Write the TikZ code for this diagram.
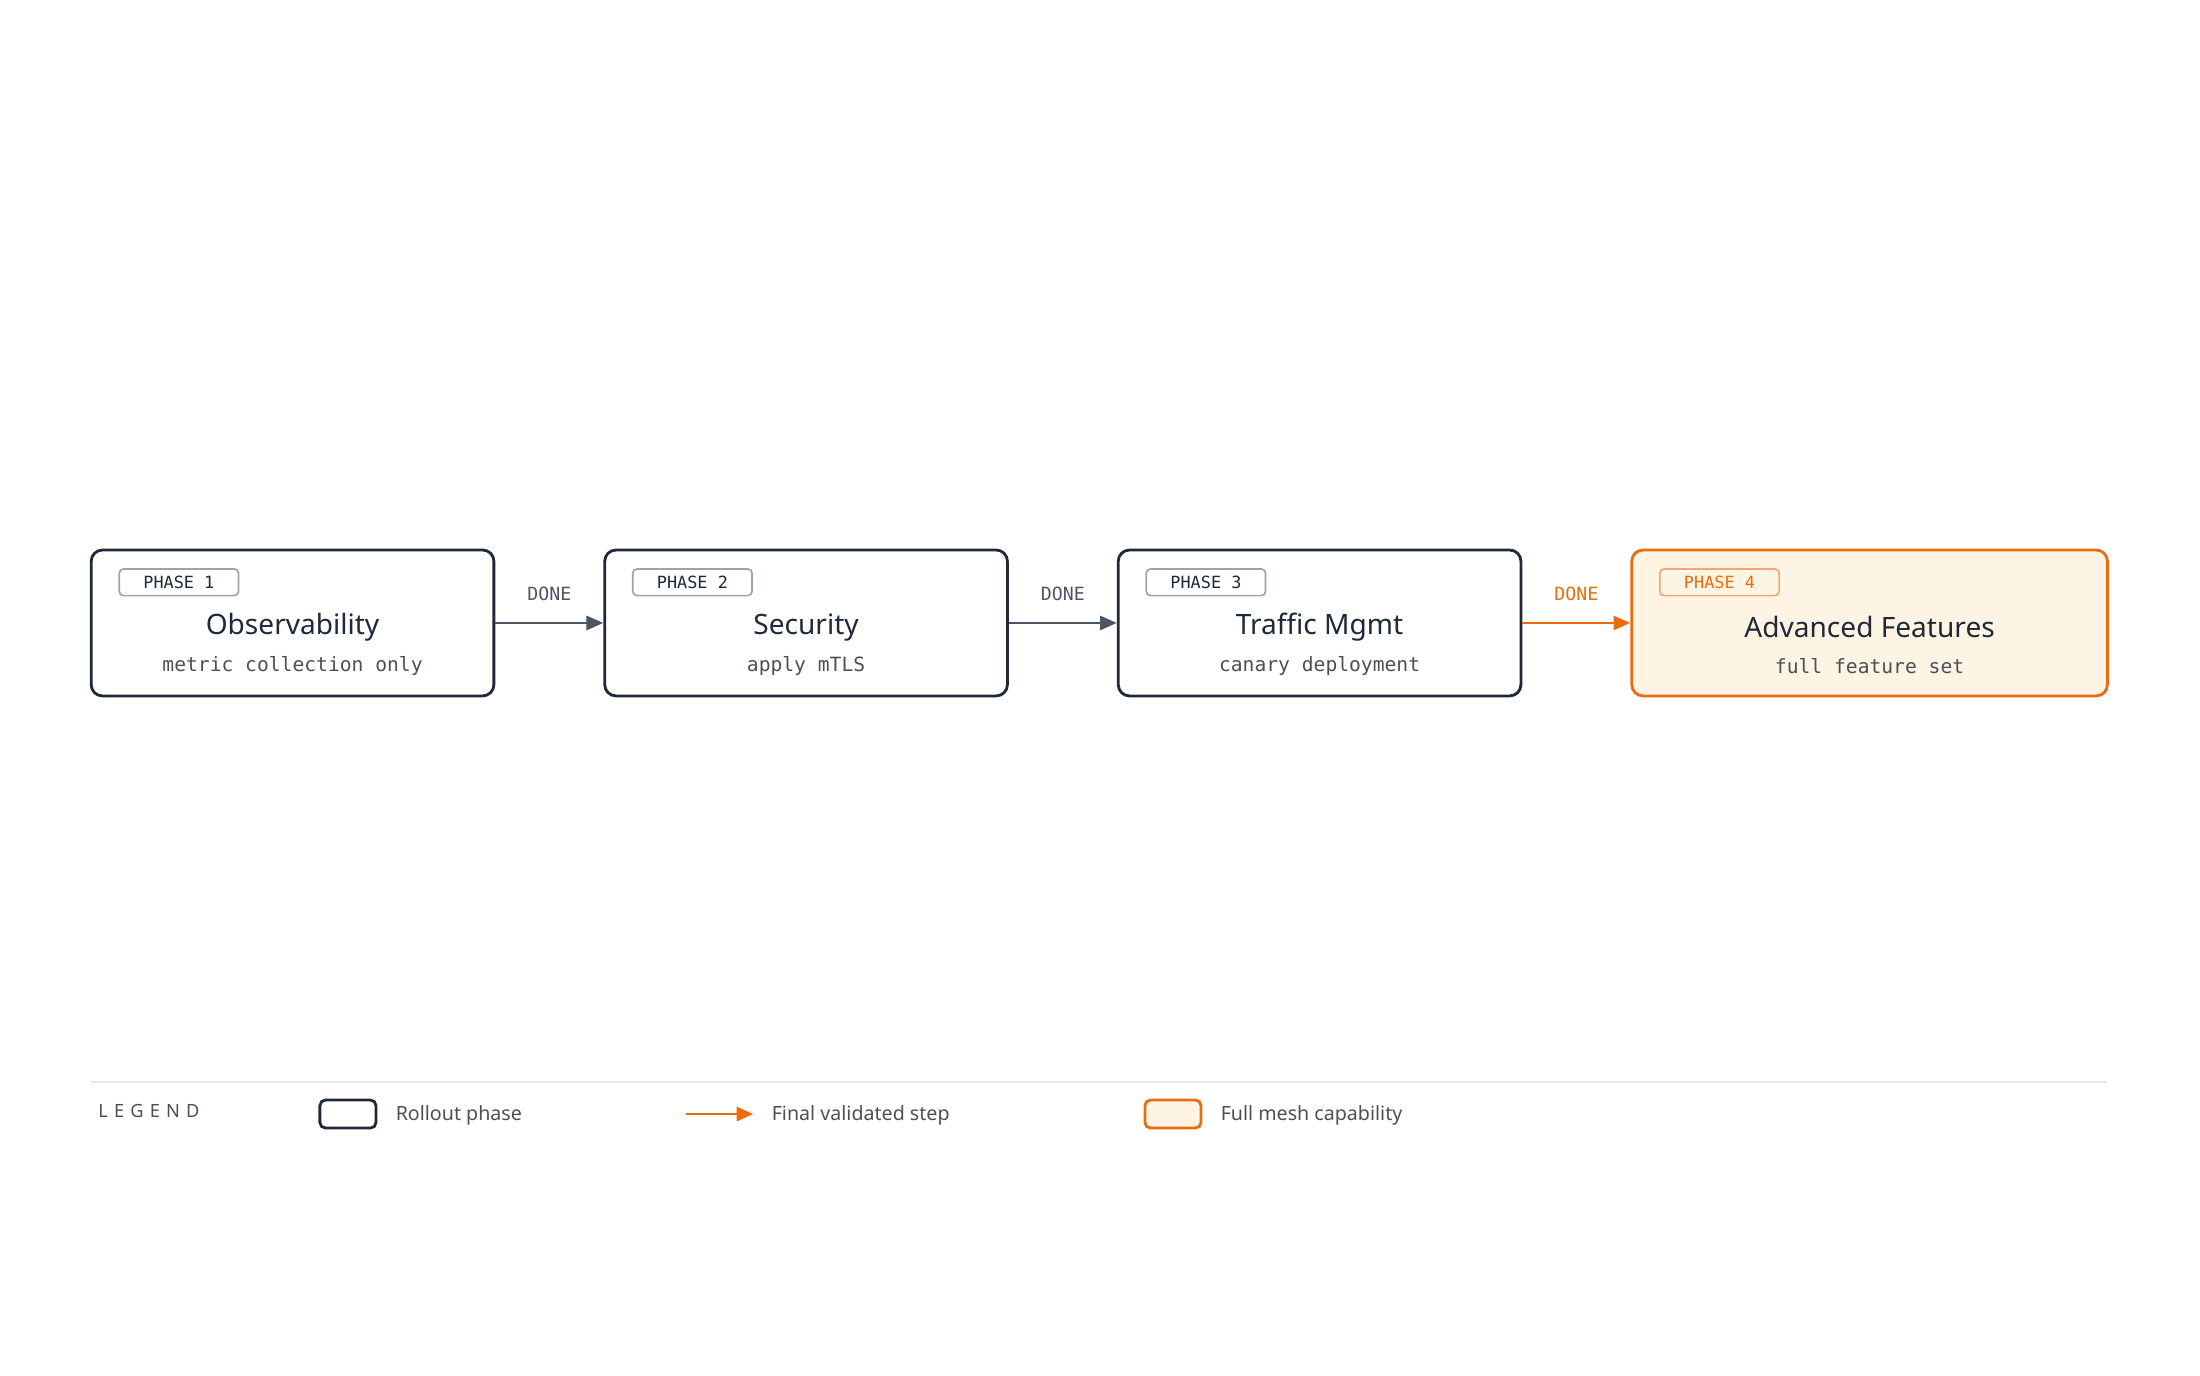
\documentclass[tikz,border=0pt]{standalone}
\usepackage{fontspec}
\setmainfont{Noto Sans}
\newfontfamily\monof{DejaVu Sans Mono}
\usetikzlibrary{arrows.meta}
\definecolor{ink}{HTML}{1F2937}
\definecolor{arr}{HTML}{4B5563}
\definecolor{org}{HTML}{EA6C0E}
\definecolor{cream}{HTML}{FEF4E4}
\definecolor{pill}{HTML}{9CA3AF}
\definecolor{sub}{HTML}{4B5058}
\begin{document}
\begin{tikzpicture}[x=0.5pt,y=-0.5pt,
 phase/.style={draw=ink,line width=1pt,rounded corners=4pt,minimum height=52pt,inner sep=0pt},
 pillb/.style={draw=pill,line width=0.6pt,rounded corners=1.5pt,minimum width=42.5pt,minimum height=9.5pt,inner sep=0pt,font=\monof\fontsize{6}{7}\selectfont,text=ink},
 ttl/.style={font=\bfseries\fontsize{10}{12}\selectfont,text=ink},
 subt/.style={font=\monof\fontsize{7}{8}\selectfont,text=sub},
 done/.style={font=\monof\fontsize{6.5}{8}\selectfont,text=arr},
 flow/.style={draw=arr,line width=1pt,-{Triangle[length=6pt,width=5pt]}},
 lgt/.style={font=\fontsize{7}{8}\selectfont,text=sub,anchor=west}]
\useasboundingbox (0,0) rectangle (1568,980);
\foreach \n/\xa/\xb/\t/\s in {1/65/352/Observability/metric collection only,2/431/718/Security/apply mTLS,3/797/1084/Traffic Mgmt/canary deployment}{
 \node[phase,minimum width=(\xb-\xa)*0.5pt] (p\n) at ({(\xa+\xb)/2},444) {};
 \node[pillb] (l\n) at (\xa+62.5,415) {PHASE \n};
 \node[ttl] (t\n) at ({(\xa+\xb)/2},447) {\t};
 \node[subt] (s\n) at ({(\xa+\xb)/2},475) {\s};
}
\node[phase,draw=org,fill=cream,minimum width=169.5pt] (p4) at (1332.5,444) {};
\node[pillb,draw=org!60,text=org] (l4) at (1225.5,415) {PHASE 4};
\node[ttl] (t4) at (1332.5,447) {Advanced Features};
\node[subt] (s4) at (1332.5,475) {full feature set};
\draw[flow] (p1) -- node[done,above=4pt] {DONE} (p2);
\draw[flow] (p2) -- node[done,above=4pt] {DONE} (p3);
\draw[flow,draw=org,fill=org] (p3) -- node[done,text=org,above=4pt] {DONE} (p4);
% legend
\coordinate (la) at (65,771); \coordinate (lb) at (1502,771);
\draw[draw=black!10,line width=0.6pt] (la) -- (lb);
\node[font=\fontsize{6.5}{8}\selectfont,text=sub,anchor=west] (lg) at (63,792) {L\hspace{2.2pt}E\hspace{2.2pt}G\hspace{2.2pt}E\hspace{2.2pt}N\hspace{2.2pt}D};
\node[draw=ink,line width=1pt,rounded corners=2pt,minimum width=20pt,minimum height=10pt,inner sep=0pt] (k1) at (248,794) {};
\node[lgt] (k1t) at (275,795) {Rollout phase};
\coordinate (a1) at (489,794); \coordinate (a2) at (537,794);
\draw[flow,draw=org,fill=org] (a1) -- (a2);
\node[lgt] (k2t) at (543,795) {Final validated step};
\node[draw=org,fill=cream,line width=1pt,rounded corners=2pt,minimum width=20pt,minimum height=10pt,inner sep=0pt] (k3) at (836,794) {};
\node[lgt] (k3t) at (863,795) {Full mesh capability};
\end{tikzpicture}
\end{document}
